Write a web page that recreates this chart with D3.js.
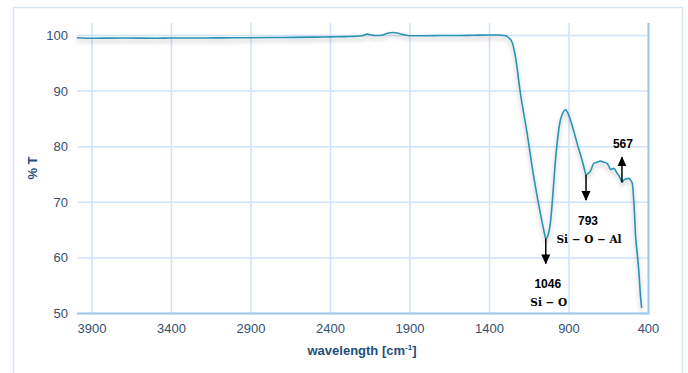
<!DOCTYPE html>
<html><head><meta charset="utf-8">
<script src="https://cdn.jsdelivr.net/npm/d3@7"></script>
<style>body{margin:0;background:#fff}svg{display:block}</style>
</head><body>
<svg id="c" width="688" height="373"></svg>
<script>
const wavenumbers = [3995,3900,3700,3500,3400,3200,3000,2900,2700,2500,2400,2300,2250,2200,2170,2150,2120,2080,2040,2010,1980,1950,1920,1900,1800,1700,1600,1500,1400,1340,1300,1280,1258,1237,1206,1164,1122,1080,1060,1046,1030,1015,1000,985,970,954,935,922,910,891,870,849,818,800,793,780,765,744,723,702,681,660,645,639,618,597,580,567,555,544,523,510,502,490,481,470,460,450,443];
const transmittance = [99.6,99.5,99.55,99.5,99.55,99.55,99.6,99.6,99.65,99.7,99.75,99.8,99.85,99.95,100.25,100.15,100.0,100.05,100.4,100.55,100.45,100.2,100.05,99.95,99.95,100.0,100.0,100.05,100.1,100.1,99.95,99.6,98.8,96.2,89.7,82.5,74.6,68.0,65.2,63.5,64.3,66.8,72.0,77.6,81.8,84.8,86.3,86.7,86.2,84.8,82.8,80.6,77.6,75.6,74.9,75.2,75.6,77.0,77.2,77.4,77.2,77.0,76.2,75.9,76.1,75.2,74.5,73.6,74.0,74.2,74.3,73.9,73.4,69.0,63.9,60.5,57.3,53.0,51.0];
const xTicks = [3900,3400,2900,2400,1900,1400,900,400];
const yTicks = [50,60,70,80,90,100];
const peakWn = [1046,793,567];
const peakT = [63.5,74.9,73.6];
const peakLabels = ["1046","793","567"];
const peakGroups = ["Si − O","Si − O − Al",""];
const peakDir = ["down","down","up"];

const svg = d3.select("#c");
const pLeft = 77, pRight = 648.5, pTop = 23, pBottom = 313.5;
const x = d3.scaleLinear().domain([3900,400]).range([92,648.5]);
const y = d3.scaleLinear().domain([50,100]).range([313.5,35.5]);

// outer frame
svg.append("path").attr("d","M13.5,373 V7.5 H682.5 V373").attr("fill","none").attr("stroke","#d5e5f6").attr("stroke-width",1.5);

const defs = svg.append("defs");
const f = defs.append("filter").attr("id","sh").attr("x","-5%").attr("y","-5%").attr("width","110%").attr("height","120%");
f.append("feDropShadow").attr("dx",0).attr("dy",3).attr("stdDeviation",2).attr("flood-color","#000").attr("flood-opacity",0.28);
const m = defs.append("marker").attr("id","ah").attr("viewBox","0 0 10 10").attr("refX",9).attr("refY",5)
  .attr("markerWidth",10).attr("markerHeight",10).attr("markerUnits","userSpaceOnUse").attr("orient","auto");
m.append("path").attr("d","M0,0.5 L10,5 L0,9.5 Z").attr("fill","#000");

// grid
const g = svg.append("g");
g.selectAll(".vg").data(xTicks).join("line").attr("x1",d=>x(d)).attr("x2",d=>x(d)).attr("y1",pTop).attr("y2",pBottom)
  .attr("stroke","#cfe3fa").attr("stroke-width",1.5);
g.selectAll(".hg").data(yTicks).join("line").attr("x1",pLeft).attr("x2",pRight).attr("y1",d=>y(d)).attr("y2",d=>y(d))
  .attr("stroke","#cfe3fa").attr("stroke-width",1.5);
// axis lines
svg.append("line").attr("x1",pLeft).attr("x2",pRight+1).attr("y1",pBottom).attr("y2",pBottom).attr("stroke","#9cc7f0").attr("stroke-width",2);
svg.append("line").attr("x1",pRight).attr("x2",pRight).attr("y1",pTop).attr("y2",pBottom).attr("stroke","#9cc7f0").attr("stroke-width",2);

// tick labels
const tickStyle = s => s.attr("font-family","Liberation Sans, Arial, sans-serif").attr("font-size",13).attr("fill","#34506f");
svg.selectAll(".xt").data(xTicks).join("text").attr("x",d=>x(d)).attr("y",333).attr("text-anchor","middle").text(d=>d).call(tickStyle);
svg.selectAll(".yt").data(yTicks).join("text").attr("x",68).attr("y",d=>y(d)+4.5).attr("text-anchor","end").text(d=>d).call(tickStyle);

// titles
const xt = svg.append("text").attr("x",362).attr("y",355).attr("text-anchor","middle")
  .attr("font-family","Liberation Sans, Arial, sans-serif").attr("font-weight","bold").attr("font-size",13).attr("fill","#1f4e79");
xt.append("tspan").text("wavelength [cm");
xt.append("tspan").attr("dy",-5).attr("font-size",8).text("-1");
xt.append("tspan").attr("dy",5).text("]");
svg.append("text").attr("transform","translate(37,168) rotate(-90)").attr("text-anchor","middle")
  .attr("font-family","Liberation Sans, Arial, sans-serif").attr("font-weight","bold").attr("font-size",13).attr("fill","#1f4e79").text("% T");

// spectrum
const data = wavenumbers.map((w,i)=>[w,transmittance[i]]);
const line = d3.line().x(d=>x(d[0])).y(d=>y(d[1])).curve(d3.curveMonotoneX);
svg.append("path").datum(data.slice().reverse()).attr("d",line).attr("fill","none").attr("stroke","#2a93b3").attr("stroke-width",1.6)
  .attr("filter","url(#sh)");

// annotations
peakWn.forEach((w,i)=>{
  const px = x(w), py = y(peakT[i]);
  if (peakDir[i]==="down") {
    svg.append("line").attr("x1",px).attr("x2",px).attr("y1",py).attr("y2",py+25).attr("stroke","#000").attr("stroke-width",1.5).attr("marker-end","url(#ah)");
    svg.append("text").attr("x",px+2).attr("y",py+50).attr("text-anchor","middle").attr("font-family","Liberation Sans, Arial, sans-serif")
      .attr("font-weight","bold").attr("font-size",12).attr("fill","#000").text(peakLabels[i]);
    svg.append("text").attr("x",px+3).attr("y",py+68).attr("text-anchor","middle").attr("font-family","DejaVu Serif, serif")
      .attr("font-weight","bold").attr("font-size",10.5).attr("fill","#000").text(peakGroups[i]);
  } else {
    svg.append("line").attr("x1",px).attr("x2",px).attr("y1",py).attr("y2",py-25).attr("stroke","#000").attr("stroke-width",1.5).attr("marker-end","url(#ah)");
    svg.append("text").attr("x",px+1).attr("y",py-34).attr("text-anchor","middle").attr("font-family","Liberation Sans, Arial, sans-serif")
      .attr("font-weight","bold").attr("font-size",12).attr("fill","#000").text(peakLabels[i]);
  }
});
</script>
</body></html>
